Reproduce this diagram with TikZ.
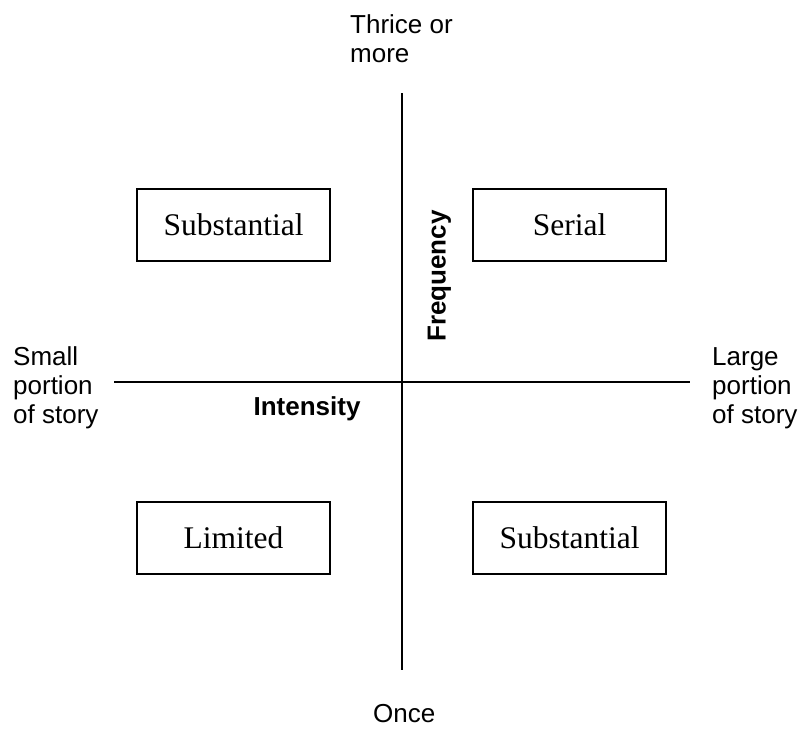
\documentclass[tikz,border=0pt]{standalone}
\usepackage{fontspec}
\setmainfont{Liberation Serif}
\newfontfamily\arialfont{Liberation Sans}
\begin{document}
\begin{tikzpicture}[x=1pt,y=-1pt,
  axis/.style={line width=2pt},
  qbox/.style={draw, line width=2pt, minimum width=193pt, minimum height=72pt, inner sep=0pt,
    font=\fontsize{31.5}{34}\selectfont},
  lbl/.style={inner sep=0pt, align=left, font=\arialfont\fontsize{26}{29}\selectfont},
  ttl/.style={inner sep=0pt, font=\arialfont\bfseries\fontsize{26}{29}\selectfont}]
\useasboundingbox (0,0) rectangle (798,729);
% axes
\coordinate (vtop) at (402,93);
\coordinate (vbot) at (402,670);
\coordinate (hl) at (114,381.5);
\coordinate (hr) at (690,381.5);
\draw[axis] (vtop) -- (vbot);
\draw[axis] (hl) -- (hr);
% boxes
\node[qbox] (tl) at (233.5,225) {Substantial};
\node[qbox] (tr) at (569.5,225) {Serial};
\node[qbox] (bl) at (233.5,537.5) {Limited};
\node[qbox] (br) at (569.5,537.5) {Substantial};
% axis labels (base anchor = baseline of last line)
\node[lbl, anchor=base west] (top) at (350,62) {Thrice or\\more};
\node[lbl, anchor=base west] (bot) at (373,722) {Once};
\node[lbl, anchor=base west] (left) at (13,423) {Small\\portion\\of story};
\node[lbl, anchor=base west] (right) at (712,423) {Large\\portion\\of story};
\node[ttl, anchor=base] (int) at (307,415.5) {Intensity};
\node[ttl, anchor=base, rotate=90] (freq) at (445.5,276) {Frequency};
\end{tikzpicture}
\end{document}
